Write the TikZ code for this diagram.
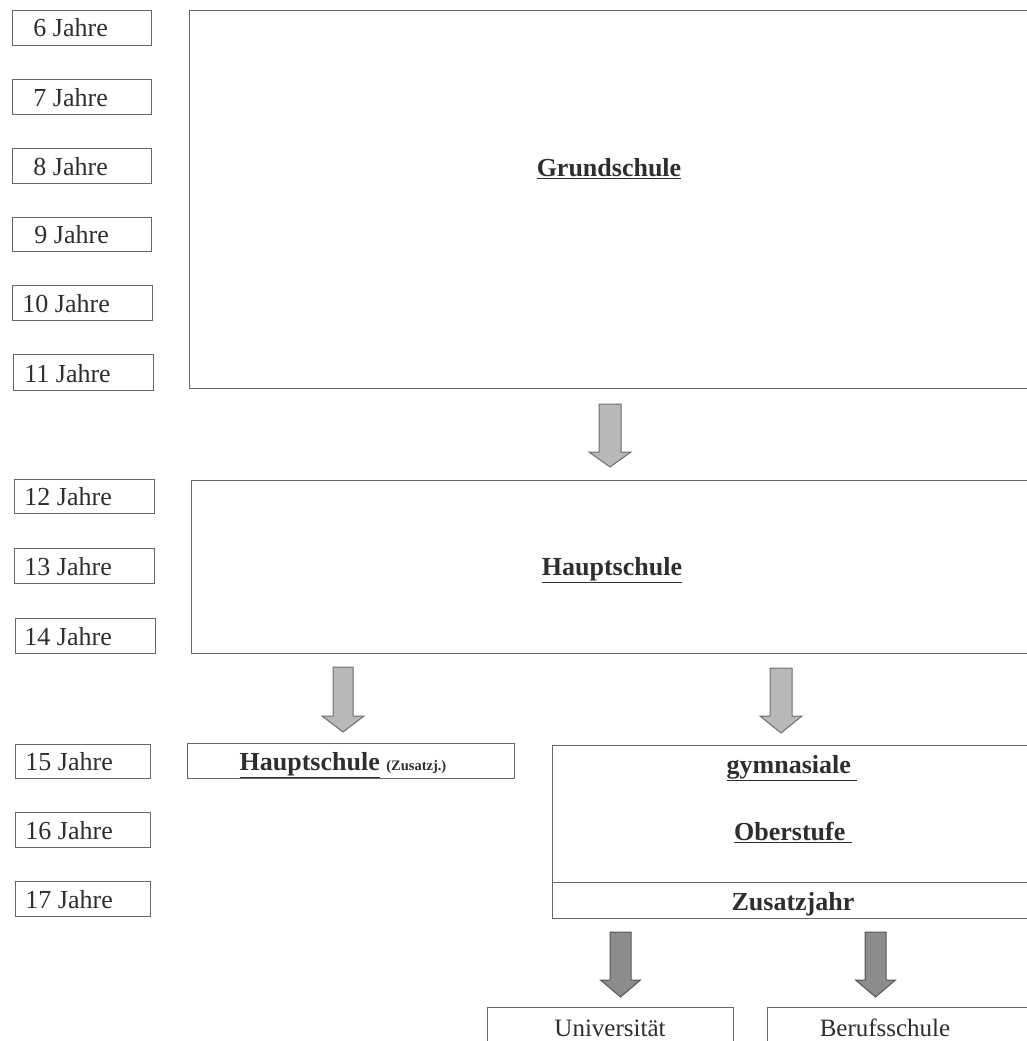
\documentclass[tikz,border=0pt]{standalone}
\usepackage{fontspec}
\setmainfont{Liberation Serif}
\usetikzlibrary{calc}
\definecolor{ln}{HTML}{666666}
\definecolor{tx}{HTML}{2E2E2E}
\definecolor{arfill}{HTML}{B8B8B8}
\definecolor{arline}{HTML}{6E6E6E}
\definecolor{darfill}{HTML}{8C8C8C}
\definecolor{darline}{HTML}{555555}
\newcommand\blockarr[7]{% x, ytop, yhead, ytip, shaft half, head half, style
  \filldraw[#7] (#1-#5,#2) -- (#1+#5,#2) -- (#1+#5,#3) -- (#1+#6,#3) -- (#1,#4) -- (#1-#6,#3) -- (#1-#5,#3) -- cycle;}
\begin{document}
\begin{tikzpicture}[x=1pt,y=-1pt,
  box/.style={draw=ln, line width=1.3pt, rectangle, inner sep=0pt, anchor=north west},
  agetext/.style={text=tx, font=\fontsize{26}{30}\selectfont, inner sep=0pt, anchor=base east},
  title/.style={text=tx, font=\fontsize{26}{30}\selectfont\bfseries, inner sep=0pt, anchor=base},
  plain/.style={text=tx, font=\fontsize{25}{30}\selectfont, inner sep=0pt, anchor=base},
  light/.style={fill=arfill, draw=arline, line width=1pt, line join=miter},
  dark/.style={fill=darfill, draw=darline, line width=1pt, line join=miter}]
\useasboundingbox (0,0) rectangle (1027,1041);
\clip (0,0) rectangle (1027,1041);
% age boxes
\foreach \a/\l/\r/\t/\b/\e in {6/12/151/10/45/108, 7/12/151/79/114/108, 8/12/151/148/183/108,
  9/12/151/217/251/109, 10/12/152/285/320/110, 11/13/153/354/390/111,
  12/14/154/479/513/112, 13/14/154/548/583/112, 14/15/155/618/653/112,
  15/15/150/744/778/113, 16/15/150/812/847/113, 17/15/150/881/916/113} {
  \node[box, minimum width={\r-\l}, minimum height={\b-\t}] (age\a) at (\l,\t) {};
  \node[agetext] (agetxt\a) at (\e,\b-8) {\a\ Jahre};
}
% Grundschule
\node[box, minimum width=851, minimum height=378] (gs) at (189,10) {};
\node[title] (gst) at (609,176) {\underline{Grundschule}};
% Hauptschule
\node[box, minimum width=849, minimum height=173] (hs) at (191,480) {};
\node[title] (hst) at (612,575) {\underline{Hauptschule}};
% Hauptschule Zusatzjahr
\node[box, minimum width=327, minimum height=35] (hz) at (187,743) {};
\node[title] (hzt) at (343,770) {\underline{Hauptschule} {\fontsize{14.5}{16}\selectfont (Zusatzj.)}};
% gymnasiale Oberstufe
\node[box, minimum width=488, minimum height=137] (go) at (552,745) {};
\node[title] (got1) at (792,773) {\underline{gymnasiale\ }};
\node[title] (got2) at (793,840) {\underline{Oberstufe\ }};
\node[box, minimum width=488, minimum height=36] (zj) at (552,882) {};
\node[title] (zjt) at (793,910) {Zusatzjahr};
% Universitaet / Berufsschule
\node[box, minimum width=246, minimum height=60] (uni) at (487,1007) {};
\node[plain] (unit) at (610,1036) {Universität};
\node[box, minimum width=273, minimum height=60] (bs) at (767,1007) {};
\node[plain] (bst) at (885,1036) {Berufsschule};
% arrows
\blockarr{610}{404}{452}{467}{11}{21}{light}
\blockarr{343}{667}{716}{732}{10}{21}{light}
\blockarr{781}{668}{716}{733}{11}{21}{light}
\blockarr{620.5}{932}{980}{997}{10.5}{20}{dark}
\blockarr{875.5}{932}{980}{997}{10.5}{20}{dark}
\end{tikzpicture}
\end{document}
